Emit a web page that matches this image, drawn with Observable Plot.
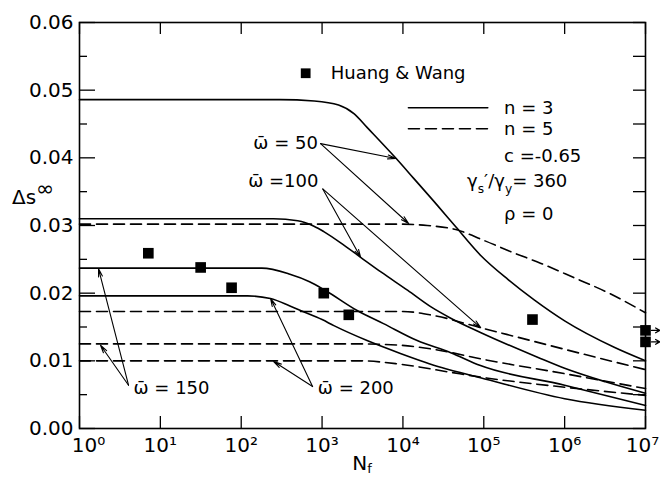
<!DOCTYPE html>
<html><head><meta charset="utf-8">
<script src="https://cdn.jsdelivr.net/npm/d3@7"></script>
<script src="https://cdn.jsdelivr.net/npm/@observablehq/plot@0.6"></script>
<style>body{margin:0;background:#fff}</style>
</head><body><div id="chart"></div>
<script>
// ---------- data ----------
const xTicks = [1, 10, 100, 1e3, 1e4, 1e5, 1e6, 1e7];
const yTicks = [0, 0.01, 0.02, 0.03, 0.04, 0.05, 0.06];
const yMinorTicks = [0.005, 0.015, 0.025, 0.035, 0.045, 0.055];

// n = 3 (solid) curves: [N_f, Δs∞]
const solid50  = [[1,.0486],[300,.0486],[800,.0484],[1600,.0478],[2500,.0465],[3600,.0445],[8100,.0400],[13500,.0370],[27000,.0329],[45000,.0298],[91000,.0256],[2.0e5,.0220],[4.2e5,.0190],[1e6,.0159],[4.1e6,.0120],[1e7,.0100]];
const solid100 = [[1,.0310],[250,.0310],[500,.0307],[794,.0299],[1050,.0291],[1860,.0271],[3000,.0253],[5400,.0231],[11500,.0204],[22000,.0180],[39000,.0163],[91000,.0142],[4.7e5,.0105],[1e6,.0089],[3.2e6,.0069],[1e7,.0052]];
const solid150 = [[1,.0237],[180,.0237],[400,.0228],[700,.0217],[1100,.0204],[2750,.0174],[5750,.0155],[15000,.0130],[39000,.0112],[91000,.0093],[1e6,.0064],[1e7,.0034]];
const solid200 = [[1,.0196],[120,.0196],[230,.0192],[400,.0181],[550,.0174],[1000,.0161],[1400,.0152],[3600,.0130],[9300,.0111],[30000,.0090],[91000,.0075],[1e6,.0044],[1e7,.0027]];
// n = 5 (dashed) curves
const dashed50  = [[1,.0302],[10000,.0302],[20000,.0300],[45000,.0294],[1e5,.0278],[2.3e5,.0260],[5.1e5,.0244],[1.3e6,.0223],[3.4e6,.0201],[1e7,.0171]];
const dashed100 = [[1,.0173],[10000,.0173],[24000,.0167],[91000,.0149],[3.8e5,.0130],[1e6,.0117],[1e7,.0087]];
const dashed150 = [[1,.0125],[3000,.0125],[9300,.0123],[30000,.0115],[91000,.0103],[1e6,.0081],[1e7,.0059]];
const dashed200 = [[1,.0100],[3000,.0100],[9300,.0095],[39000,.0083],[91000,.0076],[1e6,.0061],[1e7,.0049]];

// Huang & Wang test points
const hwN = [7.1, 31.5, 76, 1050, 2140, 4.0e5, 1e7, 1e7];
const hwS = [0.0259, 0.0238, 0.0208, 0.0200, 0.0168, 0.0161, 0.0145, 0.0128];
const runoutEndN = 1.5e7;   // run-out arrows (specimens that did not fail)

// ω̄ annotations: label anchor and arrow targets [N, Δs]
const omegaLabels = ["ω\u0304 = 50", "ω\u0304 =100", "ω\u0304 = 150", "ω\u0304 = 200"];
const omegaLabelPos = [[887, .0421, "end"], [900, .0366, "end"], [4.66, .0060, "start"], [887, .0060, "start"]];
const omegaArrowFrom = [[958, .0421], [1020, .0354], [4.04, .0064], [763, .0062]];
const omegaArrowToSolid = [[8130, .0399], [3000, .0253], [1.72, .0236], [231, .0192]];
const omegaArrowToDashed = [[11770, .0303], [91500, .0149], [1.82, .0123], [252, .0099]];

// legend / parameters
const legendPoint = [627, .0525];
const legendText = "Huang & Wang";
const legendTextStartN = 1280;
const legendLineN = [1.17e4, 1.12e5];
const legendRows = [["n = 3", .0474], ["n = 5", .0443], ["c =-0.65", .0403], ["ρ = 0", .0316]];
const legendTextN = 1.78e5;
const ratioPos = [6.3e4, .0365];

// ---------- build tables ----------
const toRows = (pts, id) => pts.map(([N, s]) => ({N, s, id}));
const solidRows = [...toRows(solid50,"50"), ...toRows(solid100,"100"), ...toRows(solid150,"150"), ...toRows(solid200,"200")];
const dashedRows = [...toRows(dashed50,"50"), ...toRows(dashed100,"100"), ...toRows(dashed150,"150"), ...toRows(dashed200,"200")];
const hwRows = hwN.map((N, i) => ({N, s: hwS[i]}));
const runouts = hwRows.filter(d => d.N >= 1e7);
const arrows = [];
omegaArrowFrom.forEach((f, i) => {
  arrows.push({x1: f[0], y1: f[1], x2: omegaArrowToSolid[i][0], y2: omegaArrowToSolid[i][1]});
  arrows.push({x1: f[0], y1: f[1], x2: omegaArrowToDashed[i][0], y2: omegaArrowToDashed[i][1]});
});
const omegaRows = omegaLabels.map((t, i) => ({t, N: omegaLabelPos[i][0], s: omegaLabelPos[i][1], a: omegaLabelPos[i][2]}));

const FONT = "DejaVu Sans";
const supDigits = {0:"⁰",1:"¹",2:"²",3:"³",4:"⁴",5:"⁵",6:"⁶",7:"⁷",8:"⁸",9:"⁹"};
const fmtX = d => "10" + supDigits[Math.round(Math.log10(d))];

// rich text (sub/superscripts) drawn through the plot's scales
function rich(specs) {
  return function(index, scales, values, dim) {
    const g = d3.create("svg:g").attr("font-family", FONT).attr("fill", "black");
    for (const s of specs) {
      const px = s.fx ? s.fx(dim, scales) : scales.x(s.x);
      const py = (s.fy ? s.fy(dim, scales) : scales.y(s.y)) + (s.center ? 0.35 * s.size : 0);
      const t = g.append("text").attr("x", px).attr("y", py)
        .attr("font-size", s.size).attr("text-anchor", s.anchor || "start");
      let shift = 0;
      for (const [str, kind, sz, sh] of s.parts) {
        const target = sh != null ? sh : kind === "sup" ? -0.42 * s.size : kind === "sub" ? 0.3 * s.size : 0;
        const ts = t.append("tspan").text(str).attr("dy", target - shift);
        if (kind) ts.attr("font-size", sz || s.size * 0.68);
        shift = target;
      }
    }
    return g.node();
  };
}

const W = 660, H = 479;
const mL = 79, mR = 15, mT = 22, mB = 51;
const fw = W - mL - mR, fh = H - mT - mB;
const axisXOpts = {anchor: "bottom", tickSize: 0, tickPadding: 9, fontSize: 20, tickFormat: fmtX, label: null};

const chart = Plot.plot({
  width: W, height: H,
  marginTop: mT, marginBottom: mB, marginLeft: mL, marginRight: mR,
  x: {type: "log", domain: [1, 1e7]},
  y: {domain: [0, 0.06]},
  style: {fontFamily: FONT, background: "white", color: "black", overflow: "visible"},
  marks: [
    // inward ticks
    Plot.ruleY(yTicks, {y: d => d, insetRight: fw - 16, stroke: "black", strokeWidth: 1.3}),
    Plot.ruleY(yMinorTicks, {y: d => d, insetRight: fw - 8, stroke: "black", strokeWidth: 1.3}),
    Plot.ruleY([...yTicks, ...yMinorTicks], {y: d => d, insetLeft: fw - 12, stroke: "black", strokeWidth: 1.3}),
    Plot.ruleX(xTicks, {x: d => d, insetBottom: fh - 12, stroke: "black", strokeWidth: 1.3}),
    Plot.ruleX(xTicks, {x: d => d, insetTop: fh - 12, stroke: "black", strokeWidth: 1.3}),
    Plot.frame({stroke: "black", strokeWidth: 1.6}),
    Plot.axisY(yTicks, {anchor: "left", tickSize: 0, tickPadding: 6, fontSize: 20, tickFormat: d3.format(".2f"), label: null}),
    Plot.axisX(xTicks.slice(0, 1), {...axisXOpts, dx: 9}),
    Plot.axisX(xTicks.slice(1, -1), axisXOpts),
    Plot.axisX(xTicks.slice(-1), {...axisXOpts, dx: -3}),
    // curves
    Plot.line(solidRows, {x: "N", y: "s", z: "id", curve: "monotone-x", stroke: "black", strokeWidth: 1.6}),
    Plot.line(dashedRows, {x: "N", y: "s", z: "id", curve: "monotone-x", stroke: "black", strokeWidth: 1.6, strokeDasharray: "11,6"}),
    // test points
    Plot.dot(hwRows, {x: "N", y: "s", symbol: "square", r: 6, fill: "black"}),
    Plot.arrow(runouts, {x1: "N", y1: "s", x2: () => runoutEndN, y2: "s", stroke: "black", strokeWidth: 1.3, headLength: 6, insetStart: 6}),
    // ω̄ annotations
    Plot.arrow(arrows, {x1: "x1", y1: "y1", x2: "x2", y2: "y2", stroke: "black", strokeWidth: 1.1, headLength: 11, headAngle: 28}),
    Plot.text(omegaRows.filter(d => d.a === "end"), {x: "N", y: "s", text: "t", textAnchor: "end", fontSize: 18, fill: "black"}),
    Plot.text(omegaRows.filter(d => d.a === "start"), {x: "N", y: "s", text: "t", textAnchor: "start", fontSize: 18, fill: "black"}),
    // legend
    Plot.dot([legendPoint], {x: d => d[0], y: d => d[1], symbol: "square", r: 5.5, fill: "black"}),
    Plot.text([legendPoint], {x: () => legendTextStartN, y: d => d[1], text: () => legendText, textAnchor: "start", fontSize: 18, fill: "black"}),
    Plot.line(legendLineN.map(N => ({N, s: legendRows[0][1]})), {x: "N", y: "s", stroke: "black", strokeWidth: 1.6}),
    Plot.line(legendLineN.map(N => ({N, s: legendRows[1][1]})), {x: "N", y: "s", stroke: "black", strokeWidth: 1.6, strokeDasharray: "11,6"}),
    Plot.text(legendRows, {x: () => legendTextN, y: d => d[1], text: d => d[0], textAnchor: "start", fontSize: 18, fill: "black"}),
    rich([
      {x: ratioPos[0], y: ratioPos[1], center: true, size: 18, parts: [["γ"], ["s", "sub"], ["′/γ"], ["y", "sub"], ["= 360"]]},
      {fx: d => 12, y: 0.0341, center: true, size: 20, parts: [["Δs"], ["∞", "sup", 22]]},
      {fx: d => d.marginLeft + (d.width - d.marginLeft - d.marginRight) / 2, fy: d => d.height - 9, size: 20, anchor: "middle", parts: [["N"], ["f", "sub", 13, 3]]}
    ])
  ]
});
document.getElementById("chart").append(chart);
</script>
</body></html>
